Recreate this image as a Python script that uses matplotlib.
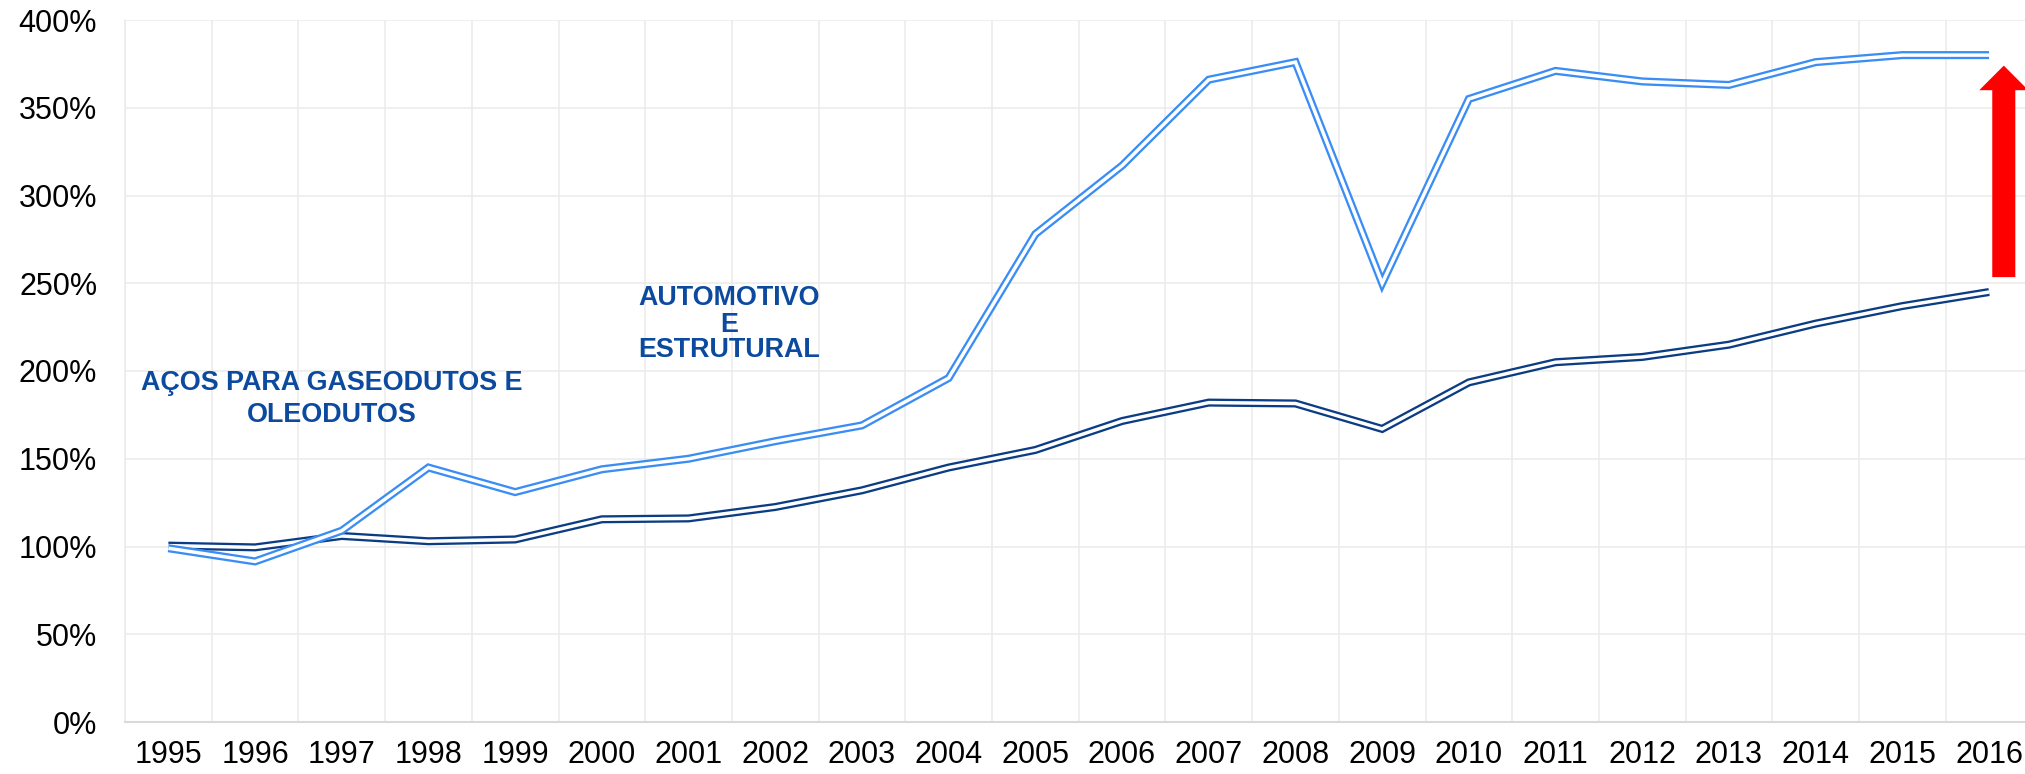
import matplotlib
matplotlib.use("Agg")
import matplotlib.pyplot as plt
from matplotlib.ticker import FuncFormatter, FixedLocator
from matplotlib.patches import FancyArrow

# Índice de preços (base 1995 = 100%)
anos = [str(a) for a in range(1995, 2017)]
automotivo_estrutural = [99, 91.5, 109, 145, 131, 144, 150, 160, 169, 196, 278,
                         317, 366, 376, 250, 355, 371, 365, 363, 376, 380, 380]
gaseodutos_oleodutos = [100.5, 99.5, 106, 103, 104, 115.5, 116, 122.5, 132, 145, 155,
                        171.5, 182, 181.5, 167, 193.5, 205, 208, 215, 227, 237, 245]
y_ticks = list(range(0, 401, 50))

COR_CLARA = "#3A8DF5"
COR_ESCURA = "#0B3C84"
COR_TEXTO = "#0B4A9E"
COR_GRADE = "#EBEBEB"

plt.rcParams["font.family"] = ["Liberation Sans", "DejaVu Sans"]

fig = plt.figure(figsize=(20.25, 7.74), dpi=100)
ax = fig.add_axes([125 / 2025, 52 / 774, 1907.4 / 2025, 702 / 774])

x = list(range(len(anos)))


def linha_dupla(valores, cor):
    ax.plot(x, valores, color=cor, lw=5.8, solid_joinstyle="miter",
            solid_capstyle="butt", zorder=3)
    ax.plot(x, valores, color="white", lw=2.5, solid_joinstyle="miter",
            solid_capstyle="butt", zorder=3)


linha_dupla(gaseodutos_oleodutos, COR_ESCURA)
linha_dupla(automotivo_estrutural, COR_CLARA)

ax.set_xlim(-0.5, len(anos) - 0.5)
ax.set_ylim(0, 400)

ax.set_xticks(x)
ax.set_xticklabels(anos)
ax.xaxis.set_minor_locator(FixedLocator([i - 0.5 for i in range(len(anos) + 1)]))
ax.set_yticks(y_ticks)
ax.yaxis.set_major_formatter(FuncFormatter(lambda v, _: f"{v:.0f}%"))

ax.grid(False)
ax.grid(True, which="minor", axis="x", color=COR_GRADE, lw=1.1)
ax.grid(True, which="major", axis="y", color=COR_GRADE, lw=1.1)
ax.set_axisbelow(True)

ax.tick_params(axis="both", which="both", length=0)
ax.tick_params(axis="x", labelsize=22, pad=13, colors="black")
ax.tick_params(axis="y", labelsize=22, pad=20, colors="black")

for lado in ["top", "right"]:
    ax.spines[lado].set_visible(False)
ax.spines["left"].set_color(COR_GRADE)
ax.spines["left"].set_linewidth(1.1)
ax.spines["bottom"].set_color("#D9D9D9")
ax.spines["bottom"].set_linewidth(1.5)

# Rótulos das séries
estilo = dict(color=COR_TEXTO, fontsize=19.4, fontweight="bold",
              ha="center", va="baseline", zorder=4)
ax.text(1.886, 189.2, "AÇOS PARA GASEODUTOS E", **estilo)
ax.text(1.886, 171.1, "OLEODUTOS", **estilo)
ax.text(6.47, 237.6, "AUTOMOTIVO", **estilo)
ax.text(6.47, 222.4, "E", **estilo)
ax.text(6.47, 208.1, "ESTRUTURAL", **estilo)

# Seta destacando a diferença entre as séries em 2016
base = gaseodutos_oleodutos[-1] + 8.5
topo = automotivo_estrutural[-1] - 6
seta = FancyArrow(21.17, base, 0, topo - base, width=0.266, head_width=0.566,
                  head_length=14, length_includes_head=True,
                  color="#FF0000", lw=0, zorder=5, clip_on=False)
ax.add_patch(seta)

fig.savefig("out.png", dpi=100)
